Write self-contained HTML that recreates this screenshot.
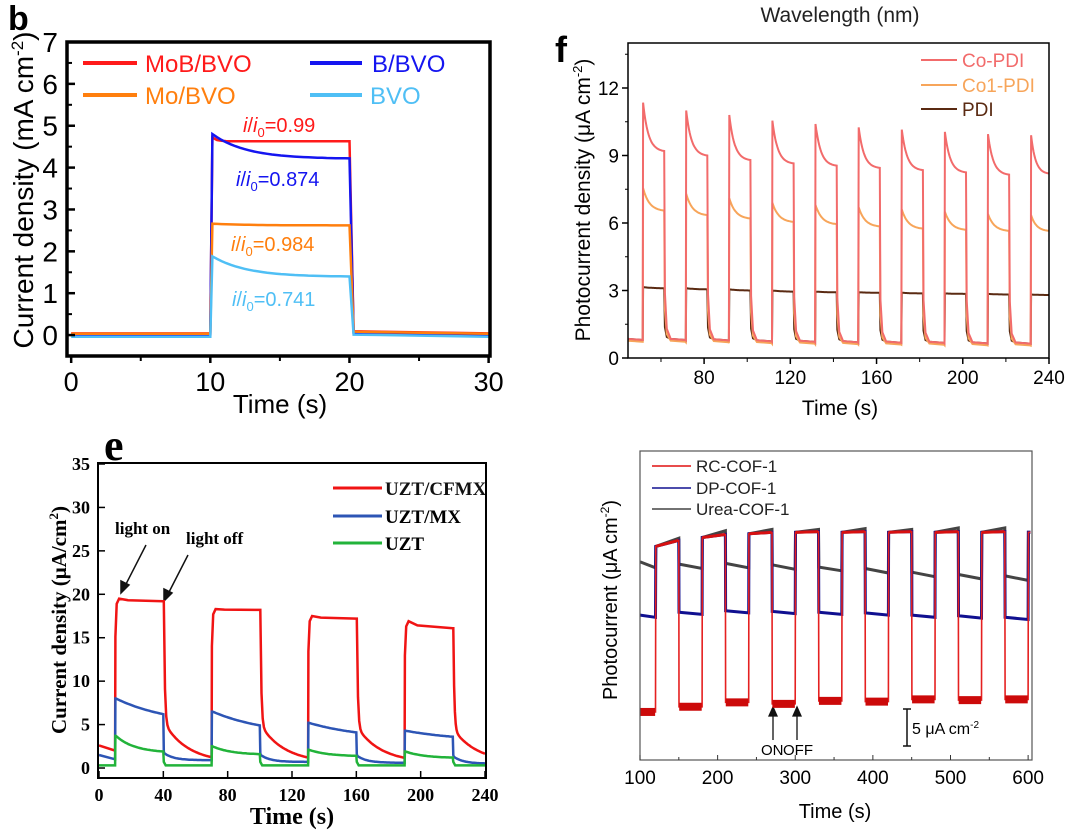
<!DOCTYPE html>
<html><head><meta charset="utf-8"><style>
html,body{margin:0;padding:0;background:#fff;}
svg{display:block;font-family:"Liberation Sans",sans-serif;}
.serif{font-family:"Liberation Serif",serif;font-weight:bold;}
</style></head><body>
<svg id="fig" width="1080" height="832" viewBox="0 0 1080 832">
<!-- Panel b -->
<g id="pb">
<text x="8" y="30" font-size="34" font-weight="bold">b</text>
<text transform="translate(33,190) rotate(-90)" text-anchor="middle" font-size="28">Current density (mA cm<tspan dy="-10" font-size="17">-2</tspan><tspan dy="10">)</tspan></text>
<text x="280" y="413" text-anchor="middle" font-size="26">Time (s)</text>
<g font-size="24">
<line x1="83" y1="63" x2="137" y2="63" stroke="#ff1a1a" stroke-width="4"/><text x="145" y="72" fill="#ff1a1a">MoB/BVO</text>
<line x1="310" y1="63" x2="362" y2="63" stroke="#1515f0" stroke-width="4"/><text x="372" y="72" fill="#1515f0">B/BVO</text>
<line x1="83" y1="95" x2="137" y2="95" stroke="#ff7f0e" stroke-width="4"/><text x="145" y="104" fill="#ff7f0e">Mo/BVO</text>
<line x1="310" y1="95" x2="362" y2="95" stroke="#4fbff5" stroke-width="4"/><text x="370" y="104" fill="#4fbff5">BVO</text>
</g>
<g font-size="20">
<text x="243" y="132" fill="#ff1a1a"><tspan font-style="italic">i</tspan>/<tspan font-style="italic">i</tspan><tspan font-size="13" dy="5">0</tspan><tspan dy="-5">=0.99</tspan></text>
<text x="236" y="186" fill="#1515f0"><tspan font-style="italic">i</tspan>/<tspan font-style="italic">i</tspan><tspan font-size="13" dy="5">0</tspan><tspan dy="-5">=0.874</tspan></text>
<text x="231" y="251" fill="#ff7f0e"><tspan font-style="italic">i</tspan>/<tspan font-style="italic">i</tspan><tspan font-size="13" dy="5">0</tspan><tspan dy="-5">=0.984</tspan></text>
<text x="232" y="306" fill="#4fbff5"><tspan font-style="italic">i</tspan>/<tspan font-style="italic">i</tspan><tspan font-size="13" dy="5">0</tspan><tspan dy="-5">=0.741</tspan></text>
</g>
</g>
<!-- Panel f -->
<g id="pf">
<text x="840" y="22" text-anchor="middle" font-size="21" fill="#222">Wavelength (nm)</text>
<text x="555" y="62" font-size="36" font-weight="bold">f</text>
<text transform="translate(590,200) rotate(-90)" text-anchor="middle" font-size="21">Photocurrent density (μA cm<tspan dy="-8" font-size="13">-2</tspan><tspan dy="8">)</tspan></text>
<text x="840" y="415" text-anchor="middle" font-size="21">Time (s)</text>
<g font-size="19">
<line x1="921" y1="60" x2="957" y2="60" stroke="#f26b6b" stroke-width="2"/><text x="962" y="67" fill="#f26b6b">Co-PDI</text>
<line x1="921" y1="85" x2="957" y2="85" stroke="#f7a55a" stroke-width="2"/><text x="962" y="92" fill="#f7a55a">Co1-PDI</text>
<line x1="921" y1="109" x2="957" y2="109" stroke="#5a2a12" stroke-width="2"/><text x="962" y="116" fill="#5a2a12">PDI</text>
</g>
</g>
<!-- Panel e -->
<g id="pe" class="serif">
<text x="104" y="460" font-size="44" class="serif">e</text>
<text transform="translate(66,620) rotate(-90)" text-anchor="middle" font-size="21" class="serif">Current density (μA/cm<tspan dy="-8" font-size="13">2</tspan><tspan dy="8">)</tspan></text>
<text x="292" y="824" text-anchor="middle" font-size="24" class="serif">Time (s)</text>
<g font-size="19" class="serif">
<line x1="333" y1="488" x2="382" y2="488" stroke="#f01414" stroke-width="3"/><text x="385" y="495" fill="#111">UZT/CFMX</text>
<line x1="333" y1="516" x2="382" y2="516" stroke="#2d55b5" stroke-width="3"/><text x="385" y="523">UZT/MX</text>
<line x1="333" y1="543" x2="382" y2="543" stroke="#22b33a" stroke-width="3"/><text x="385" y="550">UZT</text>
</g>
<text x="115" y="534" font-size="17" class="serif">light on</text>
<text x="186" y="544" font-size="17" class="serif">light off</text>
<g stroke="#111" stroke-width="1.5" fill="#111">
<line x1="146" y1="545" x2="124" y2="588"/><polygon points="121,593 121,581 129,585"/>
<line x1="188" y1="555" x2="167" y2="596"/><polygon points="164,601 164,589 172,593"/>
</g>
</g>
<!-- Panel bottom right -->
<g id="pr">
<text transform="translate(617,600) rotate(-90)" text-anchor="middle" font-size="20">Photocurrent (μA cm<tspan dy="-8" font-size="12">-2</tspan><tspan dy="8">)</tspan></text>
<text x="835" y="818" text-anchor="middle" font-size="20">Time (s)</text>
<g font-size="17">
<line x1="652" y1="466" x2="691" y2="466" stroke="#e01010" stroke-width="1.5"/><text x="696" y="472" fill="#222">RC-COF-1</text>
<line x1="652" y1="488" x2="691" y2="488" stroke="#101090" stroke-width="1.5"/><text x="696" y="494" fill="#222">DP-COF-1</text>
<line x1="652" y1="509" x2="691" y2="509" stroke="#444" stroke-width="1.5"/><text x="696" y="515" fill="#222">Urea-COF-1</text>
</g>
<g stroke="#111" stroke-width="1.5">
<line x1="907" y1="709" x2="907" y2="746"/><line x1="903" y1="709" x2="911" y2="709"/><line x1="903" y1="746" x2="911" y2="746"/>
</g>
<text x="912" y="734" font-size="16">5 μA cm<tspan dy="-6" font-size="10">-2</tspan></text>
<g stroke="#111" stroke-width="1.3" fill="#111">
<line x1="773" y1="740" x2="773" y2="712"/><polygon points="773,707 769,716 777,716"/>
<line x1="797" y1="740" x2="797" y2="712"/><polygon points="797,707 793,716 801,716"/>
</g>
<text x="761" y="755" font-size="15">ON</text>
<text x="783" y="755" font-size="15">OFF</text>
</g>
</svg>
<script>
// ---------- Panel b data ----------
const bNames = ["MoB/BVO","B/BVO","Mo/BVO","BVO"];
const bPeak = [4.72, 4.8, 2.66, 1.88];
const bEnd = [4.63, 4.22, 2.62, 1.40];
const bDark = [0.04, 0.01, 0.03, -0.04];
const bOnOff = [10, 20];
const bYTicks = [0,1,2,3,4,5,6,7];
const bXTicks = [0,10,20,30];
// ---------- Panel f data ----------
const fOn = [51.5,71.5,91.5,111.5,131.5,151.5,171.5,191.5,211.5,231.5];
const fCoPeak = [11.35,11.0,10.8,10.55,10.4,10.25,10.15,10.05,9.95,9.9];
const fCoEnd = [9.2,9.0,8.8,8.65,8.55,8.45,8.35,8.25,8.15,8.2];
const fCo1Peak = [7.55,7.3,7.1,6.9,6.8,6.7,6.6,6.5,6.4,6.35];
const fCo1End = [6.55,6.35,6.2,6.05,5.95,5.85,5.75,5.7,5.65,5.65];
const fPdiPeak = [3.15,3.1,3.05,3.0,2.95,2.92,2.9,2.87,2.85,2.82];
const fPdiEnd = [3.1,3.05,3.0,2.95,2.92,2.9,2.87,2.85,2.82,2.8];
const fDark = [0.8,0.78,0.74,0.72,0.7,0.68,0.67,0.65,0.64,0.63];
const fXTicks = [80,120,160,200,240];
const fYTicks = [0,3,6,9,12];
// ---------- Panel e data ----------
const eOn = [10,70,130,190];
const eOff = [40,100,160,220];
const eRedPeak = [19.5,18.3,17.5,16.9];
const eRedEnd = [19.2,18.2,17.2,16.1];
const eRedStart = [2.6,2.0];
const eRedDark = 0.6;
const eBluePeak = [8.0,6.5,5.2,4.3];
const eBlueEnd = [6.2,4.9,4.1,3.6];
const eBlueStart = [1.5,1.0];
const eBlueDark = [0.9,0.7,0.6,0.5];
const eGreenPeak = [3.7,2.5,2.1,1.9];
const eGreenEnd = [1.9,1.6,1.4,1.2];
const eGreenDark = 0.3;
const eXTicks = [0,40,80,120,160,200,240];
const eYTicks = [0,5,10,15,20,25,30,35];
// ---------- Panel COF data ----------
const rDarkStart = [100,150,210,270,330,390,450,510,570];
const rRedDark = [6.5,7.2,7.8,7.6,8.0,7.9,8.2,8.1,8.2];
const rGrayDarkA = [26.8,26.5,26.6,26.4,26.1,25.9,25.4,25.1,24.9];
const rGrayDarkB = [26.0,25.9,26.0,25.8,25.6,25.3,24.8,24.5,24.3];
const rBlueDark = [19.6,20.0,20.2,20.1,20.0,19.9,19.6,19.5,19.3];
const rRedHighA = [28.9,30.1,30.6,30.8,30.8,30.8,30.8,30.8];
const rRedHighB = [29.7,30.5,30.8,30.9,30.9,30.9,30.9,30.9];
const rGrayHighB = [30.0,31.0,31.2,31.2,31.3,31.2,31.4,31.4];
const rXTicks = [100,200,300,400,500,600];

const NS = "http://www.w3.org/2000/svg";
const svg = document.getElementById("fig");
function el(tag, attrs, parent){const e=document.createElementNS(NS,tag);for(const k in attrs)e.setAttribute(k,attrs[k]);(parent||svg).appendChild(e);return e;}
function lin(d0,d1,p0,p1){return v=>p0+(v-d0)*(p1-p0)/(d1-d0);}
function pathD(pts,X,Y){return pts.map((p,i)=>(i?"L":"M")+X(p[0]).toFixed(1)+","+Y(p[1]).toFixed(1)).join("");}
function decay(t0,t1,peak,end,frac){const pts=[];const D=t1-t0,tau=D*frac,eD=Math.exp(-D/tau);for(let i=0;i<=30;i++){const t=t0+D*i/30;const f=(Math.exp(-(t-t0)/tau)-eD)/(1-eD);pts.push([t,end+(peak-end)*f]);}return pts;}

// ===== Panel b =====
(function(){
const g=document.getElementById("pb");
const X=lin(-0.3,30.1,67,490), Y=lin(-0.5,7,356,42);
bNames.forEach((n,i)=>{
 const cols=["#ff1a1a","#1515f0","#ff7f0e","#4fbff5"];
 let pts=[[0,bDark[i]],[bOnOff[0],bDark[i]]];
 pts=pts.concat(decay(bOnOff[0]+0.15,bOnOff[1],bPeak[i],bEnd[i],i===0?0.03:0.25));
 pts.push([bOnOff[1]+0.3,bDark[i]+0.05],[30,bDark[i]]);
 const p=el("path",{d:pathD(pts,X,Y),fill:"none",stroke:cols[i],"stroke-width":2.5},g);
 
 
});
const fr=el("rect",{x:67,y:42,width:423,height:314,fill:"none",stroke:"#000","stroke-width":3.5},g);


bYTicks.forEach(v=>{
 el("line",{x1:67,x2:75,y1:Y(v),y2:Y(v),stroke:"#000","stroke-width":2.5},g);
 if(v<7) el("line",{x1:67,x2:72,y1:Y(v+0.5),y2:Y(v+0.5),stroke:"#000","stroke-width":2},g);
 const t=el("text",{x:58,y:Y(v)+10,"text-anchor":"end","font-size":28},g);t.textContent=v;
 
 
});
bXTicks.forEach(v=>{
 el("line",{x1:X(v),x2:X(v),y1:356,y2:363,stroke:"#000","stroke-width":2.5},g);
 if(v<30) el("line",{x1:X(v+5),x2:X(v+5),y1:356,y2:361,stroke:"#000","stroke-width":2},g);
 const t=el("text",{x:X(v),y:391,"text-anchor":"middle","font-size":27},g);t.textContent=v;
 
 
});
})();

// ===== Panel f =====
(function(){
const g=document.getElementById("pf");
const X=lin(44.7,240,628,1049), Y=lin(0,14,358,43);
function series(peak,end,dark,col,name,fast){
 let pts=[[44.7,dark[0]+0.05],[fOn[0],dark[0]]];
 fOn.forEach((on,i)=>{
  const off=Math.min(on+10,240);
  pts=pts.concat(decay(on+0.2,off,peak[i],end[i],fast));
  if(on+10<=240){
   const d=dark[i];
   pts.push([off+0.3,d+(end[i]-d)*0.25],[off+1.2,d+(end[i]-d)*0.06],[off+3,d+0.05],[off+9.8,d]);
   if(i+1<fOn.length) pts.push([fOn[i+1],dark[i+1]]);
  }
 });
 const p=el("path",{d:pathD(pts,X,Y),fill:"none",stroke:col,"stroke-width":2},g);
 
 
}
series(fPdiPeak,fPdiEnd,fDark,"#5a2a12","panel-f-line-pdi",0.5);
series(fCo1Peak,fCo1End,fDark.map(v=>v-0.08),"#f7a55a","panel-f-line-co1-pdi",0.3);
series(fCoPeak,fCoEnd,fDark,"#f26b6b","panel-f-line-co-pdi",0.25);
const fr=el("rect",{x:628,y:43,width:421,height:315,fill:"none",stroke:"#000","stroke-width":1.5},g);


fYTicks.forEach(v=>{
 el("line",{x1:622,x2:628,y1:Y(v),y2:Y(v),stroke:"#000","stroke-width":1.5},g);
 el("line",{x1:625,x2:628,y1:Y(v+1.5),y2:Y(v+1.5),stroke:"#000","stroke-width":1},g);
 const t=el("text",{x:619,y:Y(v)+7,"text-anchor":"end","font-size":19},g);t.textContent=v;
 
 
});
fXTicks.forEach(v=>{
 el("line",{x1:X(v),x2:X(v),y1:358,y2:364,stroke:"#000","stroke-width":1.5},g);
 el("line",{x1:X(v-20),x2:X(v-20),y1:358,y2:362,stroke:"#000","stroke-width":1},g);
 const t=el("text",{x:X(v),y:384,"text-anchor":"middle","font-size":19},g);t.textContent=v;
 
 
});
})();

// ===== Panel e =====
(function(){
const g=document.getElementById("pe");
const X=lin(0,240,99,485), Y=lin(-1.15,35,778,464);
function offDecay(t0,t1,from,to,a,tau1,tau2){const pts=[];for(let i=0;i<=40;i++){const dt=(t1-t0)*i/40;pts.push([t0+dt,to+(from-to)*(a*Math.exp(-dt/tau1)+(1-a)*Math.exp(-dt/tau2))]);}return pts;}
let pts=[[0,eRedStart[0]],[eOn[0],eRedStart[1]]];
eOn.forEach((on,i)=>{
 const prev=pts[pts.length-1][1];
 pts.push([on+0.2,prev+(eRedPeak[i]-prev)*0.75],[on+1,eRedPeak[i]-0.6],[on+2.5,eRedPeak[i]]);
 pts.push([on+8,eRedEnd[i]+(eRedPeak[i]-eRedEnd[i])*0.4],[eOff[i],eRedEnd[i]]);
 const nxt=i+1<eOn.length?eOn[i+1]:240;
 pts=pts.concat(offDecay(eOff[i]+0.3,nxt,eRedEnd[i],eRedDark,0.75,0.6,15));
});
let p=el("path",{d:pathD(pts,X,Y),fill:"none",stroke:"#f01414","stroke-width":2.5},g);


pts=[[0,eBlueStart[0]],[eOn[0],eBlueStart[1]]];
eOn.forEach((on,i)=>{
 pts.push([on+0.2,eBluePeak[i]]);
 pts=pts.concat(decay(on+0.5,eOff[i],eBluePeak[i],eBlueEnd[i],1.2));
 const nxt=i+1<eOn.length?eOn[i+1]:240;
 pts.push([eOff[i]+0.3,eBlueDark[i]+1]);
 pts=pts.concat(offDecay(eOff[i]+0.6,nxt,eBlueDark[i]+0.8,eBlueDark[i],0,1,6));
});
p=el("path",{d:pathD(pts,X,Y),fill:"none",stroke:"#2d55b5","stroke-width":2.5},g);


pts=[[0,eGreenDark],[eOn[0],eGreenDark]];
eOn.forEach((on,i)=>{
 pts.push([on+0.2,eGreenPeak[i]]);
 pts=pts.concat(decay(on+0.5,eOff[i],eGreenPeak[i],eGreenEnd[i],0.4));
 pts.push([eOff[i]+0.3,eGreenDark+0.4],[eOff[i]+1.5,eGreenDark]);
 const nxt=i+1<eOn.length?eOn[i+1]:240;
 pts.push([nxt,eGreenDark]);
});
p=el("path",{d:pathD(pts,X,Y),fill:"none",stroke:"#22b33a","stroke-width":2.5},g);


const fr=el("rect",{x:98,y:463,width:388,height:315,fill:"none",stroke:"#000","stroke-width":2},g);


eYTicks.forEach(v=>{
 el("line",{x1:98,x2:105,y1:Y(v),y2:Y(v),stroke:"#000","stroke-width":1.5},g);
 const t=el("text",{x:90,y:Y(v)+6,"text-anchor":"end","font-size":18,"class":"serif"},g);t.textContent=v;
 
 
});
eXTicks.forEach(v=>{
 el("line",{x1:X(v),x2:X(v),y1:778,y2:771,stroke:"#000","stroke-width":1.5},g);
 const t=el("text",{x:X(v),y:801,"text-anchor":"middle","font-size":18,"class":"serif"},g);t.textContent=v;
 
 
});
})();

// ===== Panel COF =====
(function(){
const g=document.getElementById("pr");
const X=lin(100,605,640,1032), Y=lin(0,41.8,760,451);
function build(dA,dB,hA,hB){
 let pts=[];
 rDarkStart.forEach((s,i)=>{
  const e=s===100?120:s+30;
  pts.push([s+0.3,dA[i]],[e,dB[i]]);
  if(i<hA.length){pts.push([e+0.3,hA[i]],[e+30,hB[i]]);}
 });
 pts.push([600.3,rRedHighA[7]],[603,rRedHighA[7]]);
 return pts;
}
let p=el("path",{d:pathD(build(rGrayDarkA,rGrayDarkB,rRedHighA,rGrayHighB),X,Y),fill:"none",stroke:"#444","stroke-width":3},g);


p=el("path",{d:pathD(build(rBlueDark,rBlueDark.map(v=>v-0.3),rRedHighA,rRedHighB),X,Y),fill:"none",stroke:"#101090","stroke-width":3},g);


p=el("path",{d:pathD(build(rRedDark,rRedDark,rRedHighA,rRedHighB),X,Y),fill:"none",stroke:"#e52020","stroke-width":1.6},g);


rDarkStart.forEach((s,i)=>{
 const e=s===100?120:s+30;
 const b=el("line",{x1:X(s+0.5),x2:X(e-0.5),y1:Y(rRedDark[i]),y2:Y(rRedDark[i]),stroke:"#cc0a0a","stroke-width":8},g);
 
 
 const h=el("line",{x1:X(e+0.5),x2:X(e+29.5),y1:Y(rRedHighA[Math.min(i,7)]),y2:Y(rRedHighB[Math.min(i,7)]),stroke:"#d81010","stroke-width":i<8?3:0},g);
 
 
});
const fr=el("rect",{x:640,y:451,width:392,height:309,fill:"none",stroke:"#555","stroke-width":1.2},g);


rXTicks.forEach(v=>{
 el("line",{x1:X(v),x2:X(v),y1:760,y2:755,stroke:"#333","stroke-width":1},g);
 if(v<600) el("line",{x1:X(v+50),x2:X(v+50),y1:760,y2:757,stroke:"#333","stroke-width":1},g);
 const t=el("text",{x:X(v),y:784,"text-anchor":"middle","font-size":19},g);t.textContent=v;
 
 
});
})();
</script>
</body></html>
